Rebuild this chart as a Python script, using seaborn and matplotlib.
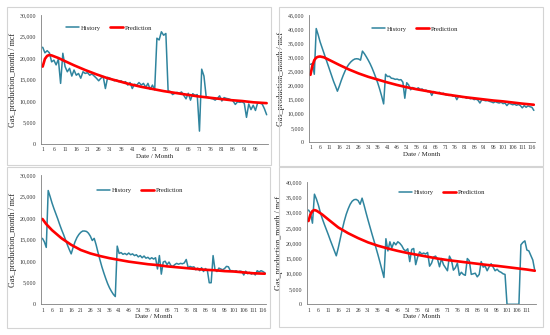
import numpy as np
import pandas as pd
import matplotlib
matplotlib.use("Agg")
import matplotlib.pyplot as plt
from matplotlib.patches import Rectangle
from matplotlib.ticker import FuncFormatter, MultipleLocator
import seaborn as sns

# ---------------- data (thousand mcf, scaled below) ----------------
hist1 = [22.5, 21.2, 21.7, 21.2, 19.1, 19.5, 18.4, 19.7, 14.1, 21.1,
         18.0, 16.8, 17.6, 15.8, 17.2, 16.0, 16.4, 15.3, 16.8, 16.4,
         16.6, 16.0, 16.3, 15.8, 15.3, 14.7, 15.3, 15.7, 12.9, 15.5,
         15.3, 15.0, 14.7, 14.9, 14.5, 14.7, 14.3, 14.5, 13.7, 14.3,
         12.9, 13.9, 13.7, 14.3, 13.7, 14.1, 13.2, 14.1, 12.7, 13.7,
         12.6, 24.6, 24.2, 26.1, 25.3, 25.7, 12.4, 12.2, 11.5, 11.8,
         12.0, 11.8, 12.1, 11.3, 10.5, 11.8, 10.2, 11.7, 11.3, 11.5,
         3.0, 17.4, 15.8, 11.0, 10.8, 10.6, 10.5, 10.2, 10.6, 11.2,
         10.0, 10.8, 10.6, 10.5, 10.3, 10.0, 9.2, 9.8, 9.7, 9.8,
         9.5, 6.2, 9.3, 8.0, 9.0, 7.8, 9.6, 9.5, 9.3, 8.2, 6.8]
pred1_month = [1, 2, 3, 4, 5, 6, 8, 10, 15, 20, 25, 30, 35, 40, 45, 50,
               55, 60, 65, 70, 75, 80, 85, 90, 95, 101]
pred1 = [18.0, 19.8, 20.5, 20.7, 20.6, 20.4, 20.0, 19.5, 18.3, 17.2, 16.2,
         15.3, 14.6, 13.9, 13.3, 12.8, 12.3, 11.9, 11.5, 11.1, 10.8, 10.5,
         10.2, 10.0, 9.7, 9.5]

hist2 = [27.5, 27.8, 24.0, 40.2, 38.0, 35.5, 33.5, 31.5, 29.5, 27.5,
         25.5, 23.5, 21.5, 19.8, 18.0, 19.8, 21.8, 23.6, 25.2, 26.6,
         27.6, 28.4, 29.0, 29.4, 29.5, 29.4, 29.0, 32.2, 31.3, 30.2,
         29.0, 27.7, 26.2, 24.5, 22.7, 20.8, 18.6, 16.2, 13.5, 24.0,
         23.2, 23.3, 22.6, 22.5, 22.2, 22.3, 22.0, 22.1, 21.2, 15.5,
         21.0, 20.2, 18.5, 19.3, 19.0, 18.8, 19.2, 18.6, 18.8, 18.2,
         18.4, 17.8, 18.0, 16.5, 17.9, 17.5, 17.3, 17.6, 17.0, 17.3,
         16.8, 16.6, 16.5, 16.8, 16.2, 16.4, 15.0, 16.3, 16.1, 15.8,
         16.0, 15.5, 15.7, 15.3, 15.5, 15.0, 15.2, 14.8, 13.8, 15.0,
         14.8, 14.6, 14.7, 14.4, 14.2, 13.9, 14.3, 14.0, 13.8, 14.1,
         13.6, 13.8, 12.9, 13.7, 13.5, 13.2, 13.4, 13.0, 13.3, 12.9,
         12.1, 12.9, 12.3, 12.8, 12.5, 12.3, 11.2]
pred2_month = [1, 2, 3, 4, 5, 6, 8, 11, 16, 21, 26, 31, 36, 41, 46, 51, 56,
               61, 66, 71, 76, 81, 86, 91, 96, 101, 106, 111, 117]
pred2 = [23.8, 27.0, 29.0, 29.9, 30.2, 30.3, 30.0, 29.0, 27.3, 25.7, 24.3,
         23.1, 22.1, 21.1, 20.2, 19.4, 18.7, 18.1, 17.5, 16.9, 16.4, 15.9,
         15.5, 15.1, 14.7, 14.4, 14.0, 13.6, 13.2]

hist3 = [15.3, 14.5, 13.2, 26.4, 25.0, 23.5, 22.2, 21.0, 19.8, 18.5,
         17.3, 16.2, 15.0, 13.8, 12.7, 11.7, 13.2, 14.5, 15.5, 16.2,
         16.7, 17.0, 17.0, 16.9, 16.5, 15.8, 14.8, 15.3, 13.8, 12.0,
         10.3, 8.7, 7.3, 6.0, 4.8, 3.8, 3.0, 2.3, 1.8, 13.5,
         11.8, 12.0, 11.6, 11.8, 11.5, 11.9, 11.5, 11.7, 11.3, 11.5,
         11.0, 11.3, 10.8, 11.2, 10.7, 10.9, 10.5, 10.8, 10.5, 10.8,
         8.2, 11.3, 7.0, 9.8, 10.0, 9.2, 9.8, 9.0, 8.8, 9.2,
         9.5, 9.3, 9.5, 9.4, 9.6, 10.4, 8.5, 8.8, 8.6, 8.7,
         8.0, 8.4, 7.8, 8.5, 7.6, 8.3, 7.9, 5.0, 5.0, 11.3,
         8.0, 7.6, 8.4, 8.2, 8.0, 8.3, 8.8, 8.7, 7.8, 7.8,
         7.6, 7.8, 7.5, 7.7, 7.6, 6.8, 7.7, 7.1, 7.4, 7.0,
         7.3, 6.8, 7.8, 7.5, 7.8, 7.6, 7.3]
pred3_month = [1, 3, 6, 11, 16, 21, 26, 31, 36, 41, 46, 51, 56, 61, 66, 71,
               76, 81, 86, 91, 96, 101, 106, 111, 117]
pred3 = [19.8, 18.6, 17.2, 15.3, 13.8, 12.6, 11.8, 11.2, 10.7, 10.3, 9.9,
         9.6, 9.3, 9.1, 8.8, 8.6, 8.4, 8.2, 8.0, 7.9, 7.7, 7.6, 7.4, 7.2, 7.1]

hist4 = [30.9, 30.0, 26.6, 36.1, 34.5, 32.5, 30.0, 28.0, 26.2, 24.5,
         22.8, 21.0, 19.3, 17.6, 15.9, 18.5, 21.5, 24.5, 27.2, 29.5,
         31.3, 32.8, 33.8, 34.3, 34.4, 34.0, 32.8, 34.8, 32.5, 30.0,
         27.6, 25.3, 23.0, 20.8, 18.5, 16.2, 13.8, 11.3, 8.8, 21.5,
         17.5, 20.5, 18.5, 20.3, 19.5, 20.5, 20.0, 19.2, 18.0, 17.5,
         18.2, 14.0, 18.0, 18.3, 13.0, 15.5, 17.2, 16.5, 16.8, 16.5,
         17.0, 12.5, 13.5, 15.5, 15.8, 14.8, 12.3, 15.0, 13.0, 12.0,
         11.0, 15.8, 14.5, 11.2, 12.0, 13.5, 9.5, 10.5, 9.8, 9.5,
         15.0, 14.3, 9.8, 10.0, 10.2, 9.0, 9.8, 14.0, 12.2, 12.5,
         11.0, 12.3, 13.3, 12.2, 11.0, 11.5, 10.8, 10.5, 10.0, 9.8,
         0.0, 0.0, 0.0, 0.0, 0.0, 0.0, 0.0, 19.5, 20.3, 20.8,
         17.8, 17.5, 16.0, 14.5, 11.0]
pred4_month = [1, 2, 3, 4, 5, 6, 8, 11, 16, 21, 26, 31, 36, 41, 46, 51, 56,
               61, 66, 71, 76, 81, 86, 91, 96, 101, 106, 111, 115]
pred4 = [27.3, 29.5, 30.6, 30.9, 30.7, 30.3, 29.4, 27.8, 25.2, 23.3, 21.7,
         20.3, 19.2, 18.3, 17.5, 16.8, 16.2, 15.6, 15.0, 14.5, 14.1, 13.7,
         13.3, 12.9, 12.6, 12.2, 11.8, 11.4, 11.0]

y_max = [30000, 45000, 30000, 40000]

# ---------------- style ----------------
sns.set_style("white")
plt.rcParams["font.family"] = ["Liberation Serif", "DejaVu Serif"]

HIST_C = "#2F849E"
PRED_C = "#FF0000"

fig = plt.figure(figsize=(5.5, 3.35), dpi=100)
W, H = 550.0, 335.0

def fr(x0, y0, x1, y1):
    return [x0 / W, 1 - y1 / H, (x1 - x0) / W, (y1 - y0) / H]

# panel boxes
for (x0, y0, x1, y1) in [(7, 7, 271, 165), (279, 7, 543, 166),
                         (7, 167, 270, 328), (279, 167, 543, 327)]:
    fig.add_artist(Rectangle((x0 / W, 1 - y1 / H), (x1 - x0) / W, (y1 - y0) / H,
                             transform=fig.transFigure, fill=False,
                             edgecolor="#d4d4d4", linewidth=0.8))

axes_px = [(41, 15, 268, 144), (309, 15, 535, 142),
           (41, 175, 266, 304.3), (307, 182.3, 536, 304.3)]
leg_pos = [(0.30, 0.90), (0.47, 0.89), (0.44, 0.88), (0.59, 0.92)]

panels = [(hist1, pred1_month, pred1), (hist2, pred2_month, pred2),
          (hist3, pred3_month, pred3), (hist4, pred4_month, pred4)]

fmt = FuncFormatter(lambda v, p: f"{int(v):,}")

for i, ((h, pm, pv), box) in enumerate(zip(panels, axes_px)):
    ax = fig.add_axes(fr(*box))
    n = len(h)
    dfh = pd.DataFrame({"month": np.arange(1, n + 1), "gas": np.array(h) * 1000})
    dfp = pd.DataFrame({"month": pm, "gas": np.array(pv) * 1000})
    sns.lineplot(data=dfh, x="month", y="gas", ax=ax, color=HIST_C,
                 linewidth=1.1, label="History")
    sns.lineplot(data=dfp, x="month", y="gas", ax=ax, color=PRED_C,
                 linewidth=1.9, label="Prediction")
    ax.set_xlim(0.25, n + 0.6)
    ax.set_ylim(0, y_max[i])
    ax.yaxis.set_major_locator(MultipleLocator(5000))
    ax.yaxis.set_major_formatter(fmt)
    ax.set_xticks(np.arange(1, n, 5))
    for s in ["top", "right"]:
        ax.spines[s].set_visible(False)
    for s in ["left", "bottom"]:
        ax.spines[s].set_color("#808080")
        ax.spines[s].set_linewidth(0.6)
    ax.tick_params(axis="y", labelsize=4.3, length=2, width=0.5, pad=1.5,
                   colors="#808080", labelcolor="#333333", direction="out")
    ax.tick_params(axis="x", labelsize=4.1, length=2, width=0.5, pad=1.5,
                   colors="#808080", labelcolor="#333333", direction="inout")
    ax.set_xlabel("Date / Month", fontsize=5.0, labelpad=1, color="#222222")
    ax.set_ylabel("Gas_production_month / mcf", fontsize=5.8, labelpad=2,
                  color="#222222")
    ax.legend(loc="center", bbox_to_anchor=leg_pos[i], ncol=2, frameon=False,
              fontsize=4.8, handlelength=1.9, handletextpad=0.3,
              columnspacing=1.4, borderpad=0, labelcolor="#222222")

fig.savefig("out.png", dpi=100)
